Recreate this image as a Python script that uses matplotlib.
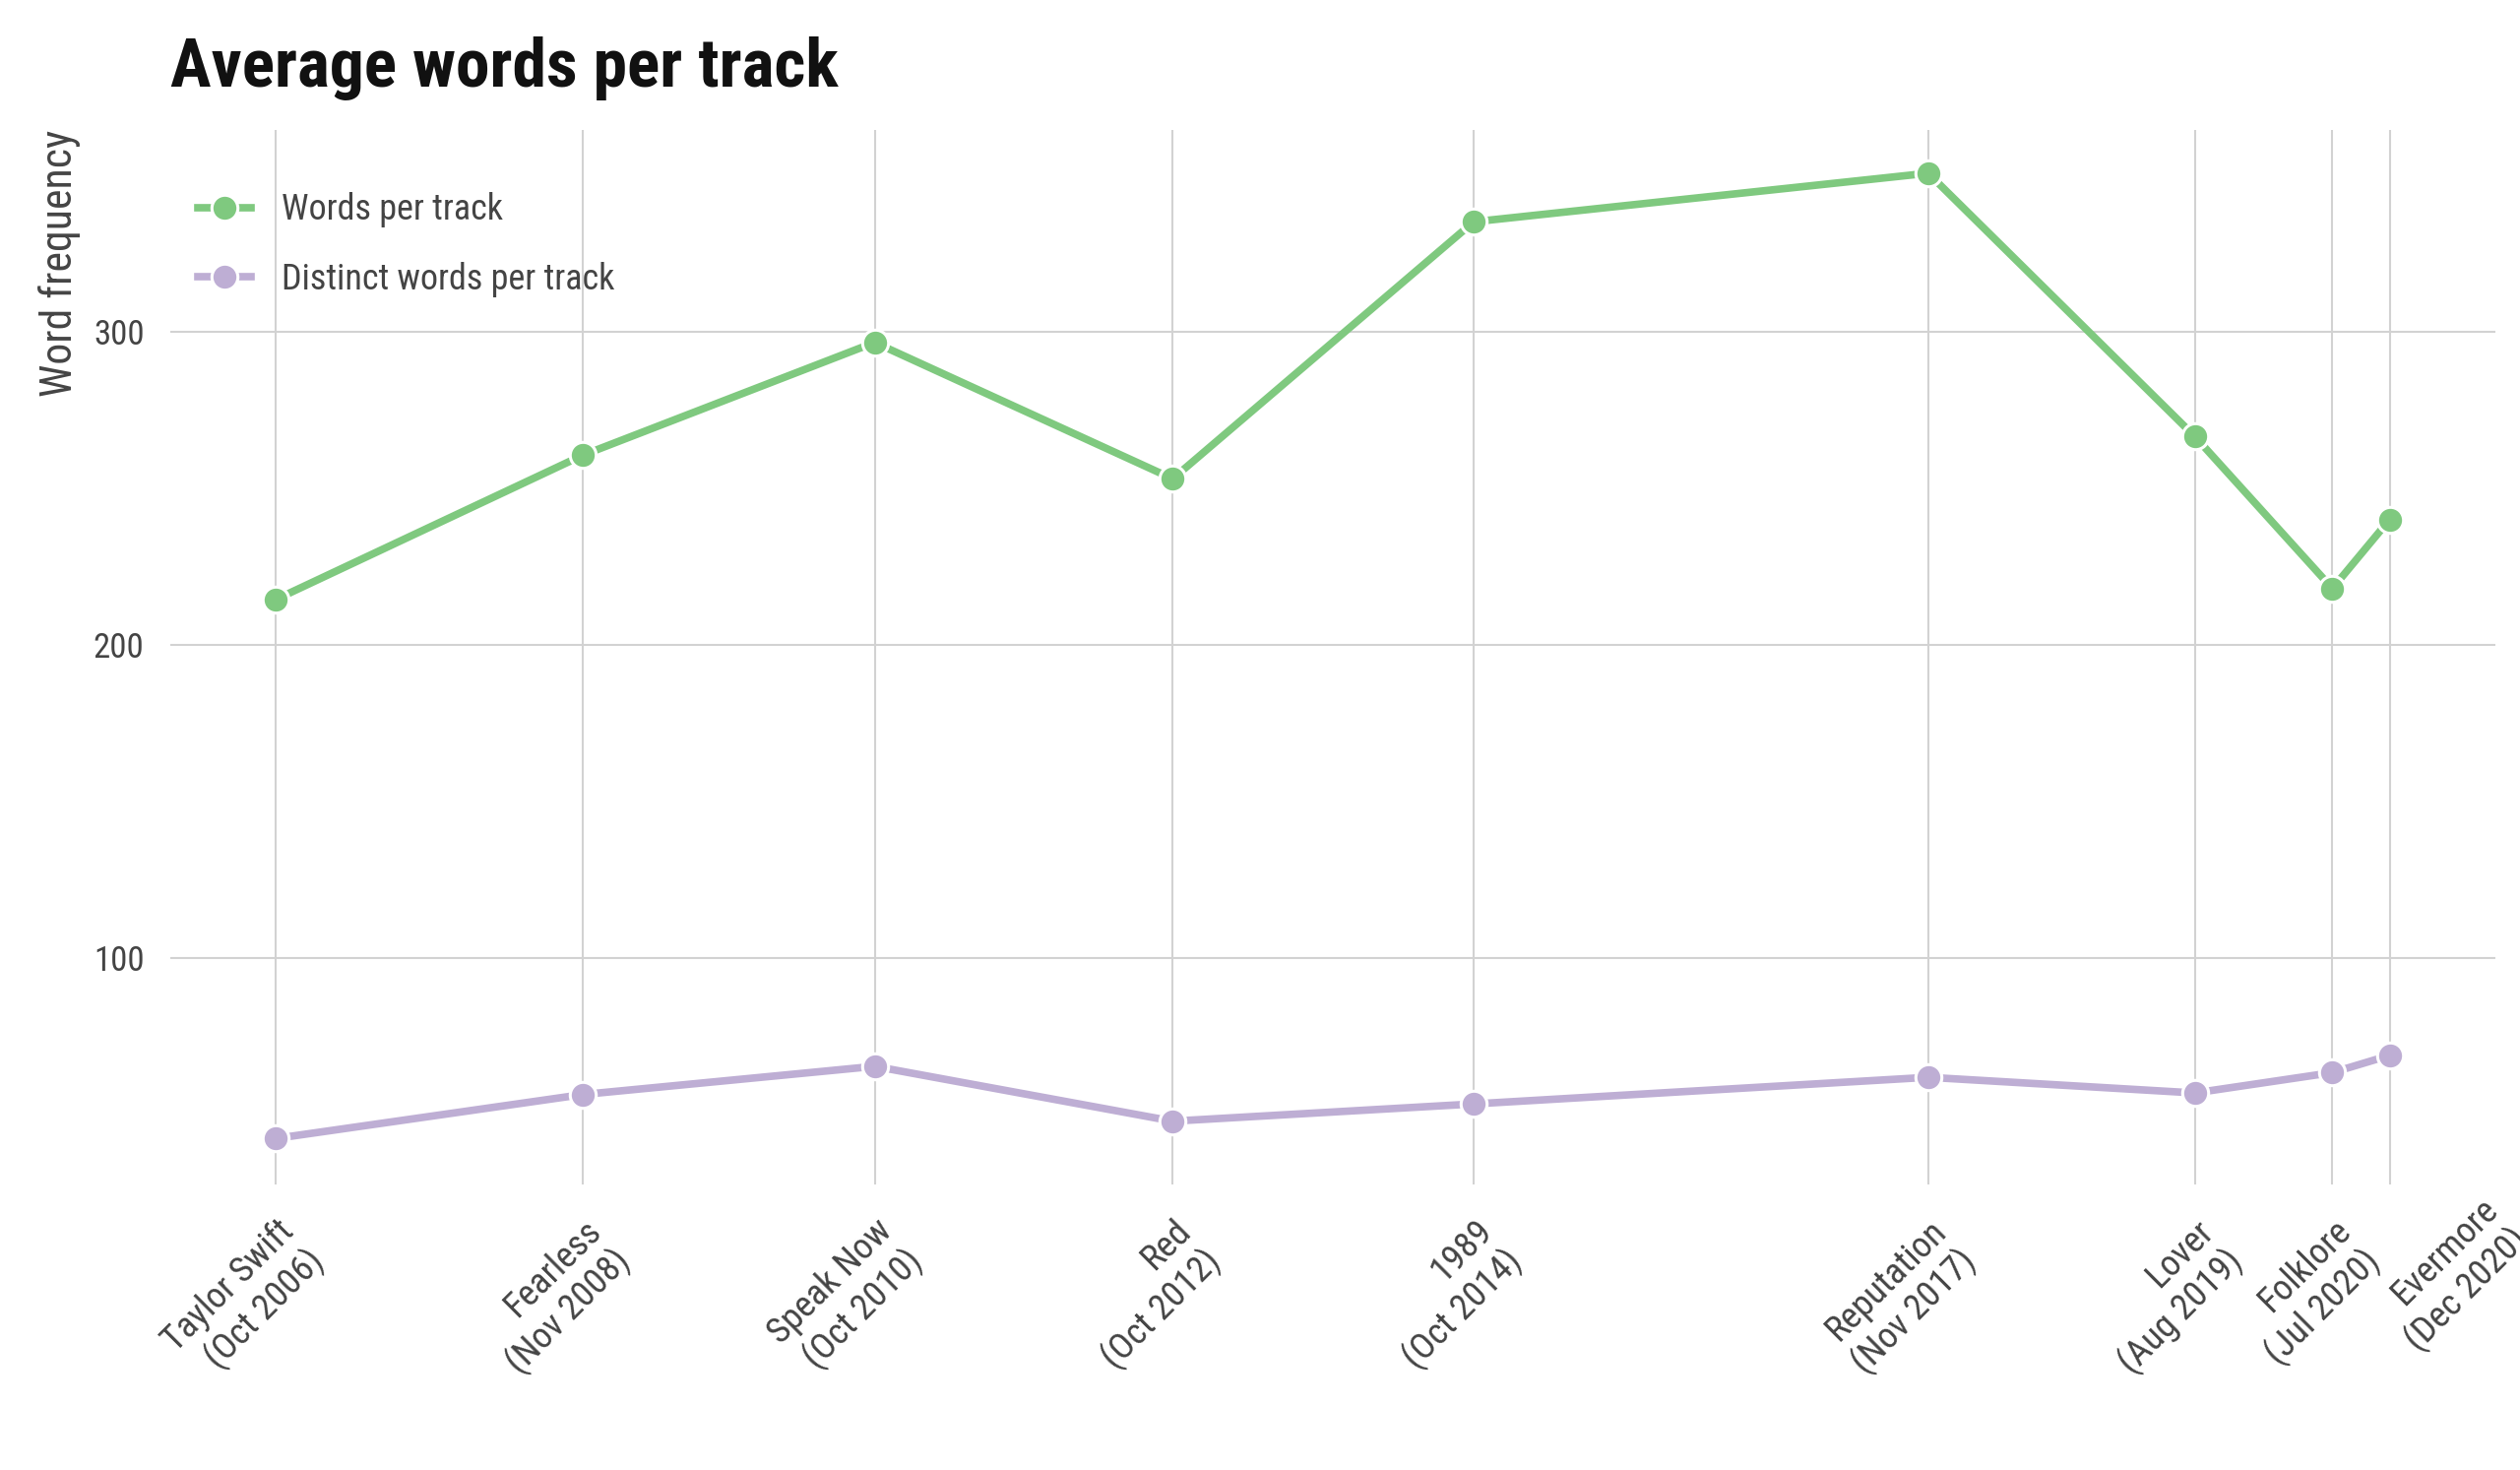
import matplotlib
matplotlib.use("Agg")
import matplotlib.pyplot as plt
from matplotlib import font_manager
from matplotlib.transforms import ScaledTranslation
import datetime as dt

# ---------------- data ----------------
albums = ["Taylor Swift", "Fearless", "Speak Now", "Red", "1989",
          "Reputation", "Lover", "Folklore", "Evermore"]
release_labels = ["Oct 2006", "Nov 2008", "Oct 2010", "Oct 2012", "Oct 2014",
                  "Nov 2017", "Aug 2019", "Jul 2020", "Dec 2020"]
release_dates = ["2006-10-24", "2008-11-11", "2010-10-25", "2012-10-22",
                 "2014-10-27", "2017-11-10", "2019-08-23", "2020-07-24",
                 "2020-12-11"]
words_per_track = [214.5, 260.5, 296.5, 253.0, 335.0, 350.5, 266.5, 218.0, 240.0]
distinct_words_per_track = [42.5, 56.5, 65.5, 48.0, 53.5, 62.0, 57.0, 63.5, 69.0]
y_ticks = [100, 200, 300]

# ---------------- fonts (narrow sans, like Arial Narrow) ----------------
fonts = {}
for f in font_manager.fontManager.ttflist:
    fonts.setdefault(f.name, set()).add(f.weight if isinstance(f.weight, int) else 400)
preferred = ["Liberation Sans Narrow", "Arial Narrow", "Nimbus Sans Narrow",
             "Archivo Narrow", "Roboto Condensed", "PT Sans Narrow",
             "Open Sans Condensed", "Liberation Sans"]
main_font = "Liberation Sans"
for p in preferred:
    if p in fonts and any(w >= 600 for w in fonts[p]):
        main_font = p
        break
plt.rcParams["font.family"] = [main_font, "DejaVu Sans"]

dates = [dt.datetime.strptime(d, "%Y-%m-%d") for d in release_dates]
tick_text = [f"{a}\n({r})" for a, r in zip(albums, release_labels)]

W, H = 2560, 1493
fig = plt.figure(figsize=(W / 100, H / 100), dpi=100)
ax = fig.add_axes([173 / W, 1 - 1203 / H, (2535 - 173) / W, (1203 - 132) / H])

green = "#7fc97f"
purple = "#beaed4"
ax.plot(dates, words_per_track, color=green, lw=5.5, marker="o", ms=19,
        mec="white", mew=2.2, label="Words per track", zorder=3)
ax.plot(dates, distinct_words_per_track, color=purple, lw=5.5, marker="o", ms=19,
        mec="white", mew=2.2, label="Distinct words per track", zorder=3)

ax.set_ylim(27.8, 364.3)
ax.set_yticks(y_ticks)
ax.set_xticks(dates)
ax.set_xticklabels(tick_text)
ax.grid(True, color="#d2d2d2", lw=1.5)
ax.set_axisbelow(True)
for s in ax.spines.values():
    s.set_visible(False)
ax.tick_params(length=0, labelcolor="#444444")
ax.tick_params(axis="y", labelsize=25, pad=19)
ax.tick_params(axis="x", labelsize=26.5, pad=21)
plt.setp(ax.get_xticklabels(), rotation=45, ha="right", rotation_mode="anchor",
         linespacing=1.2)

ax.set_title("Average words per track", loc="left", fontsize=50,
             fontweight="bold", pad=32, color="#111111")
ax.set_ylabel("Word frequency", loc="top", fontsize=31.5, color="#444444",
              labelpad=9)

leg = ax.legend(loc="upper left", bbox_to_anchor=(0.0119, 0.941),
                frameon=False, fontsize=26, borderpad=0, borderaxespad=0,
                handlelength=1.5, handletextpad=0.86, labelspacing=0.96)
for t in leg.get_texts():
    t.set_color("#444444")

fig.canvas.draw()
labels = ax.get_xticklabels()
for i, lab in enumerate(labels):
    dx, dy = (0, 0) if i < len(labels) - 1 else (92, 22)
    off = ScaledTranslation(dx / 100, dy / 100, fig.dpi_scale_trans)
    lab.set_transform(lab.get_transform() + off)

fig.savefig("out.png", dpi=100, facecolor="white")
